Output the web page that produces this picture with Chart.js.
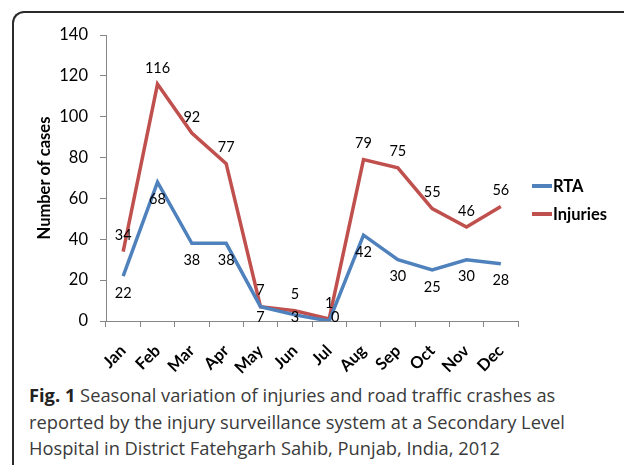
<!DOCTYPE html>
<html>
<head>
<meta charset="utf-8">
<script src="https://cdn.jsdelivr.net/npm/chart.js@4.4.1/dist/chart.umd.min.js"></script>
<style>
  html, body { margin: 0; padding: 0; background: #fff; }
  body { width: 624px; height: 465px; position: relative; overflow: hidden; font-family: Lato, sans-serif; }
  #frame { position: absolute; left: 12px; top: 11px; width: 700px; height: 520px;
           border-top: 2px solid #2b2b2b; border-left: 2px solid #2b2b2b; border-top-left-radius: 12px; }
  #wrap { position: absolute; left: 0; top: 0; width: 624px; height: 380px; }
  #legend { position: absolute; left: 532px; top: 172px; font: bold 16.5px Lato, sans-serif; color: #000; }
  .li { display: flex; align-items: center; height: 28px; }
  .sw { width: 20px; height: 4px; margin-right: 1px; }
  #caption { position: absolute; left: 29px; top: 382px; font: 18.3px "Open Sans", sans-serif; color: #3a3a3a; line-height: 26.5px; white-space: nowrap; }
  #caption b { color: #222; }
</style>
</head>
<body>
<div id="frame"></div>
<div id="wrap"><canvas id="c" width="624" height="380"></canvas></div>
<div id="legend"></div>
<div id="caption"><b>Fig. 1</b> Seasonal variation of injuries and road traffic crashes as<br>reported by the injury surveillance system at a Secondary Level<br>Hospital in District Fatehgarh Sahib, Punjab, India, 2012</div>
<script>
const months = ["Jan","Feb","Mar","Apr","May","Jun","Jul","Aug","Sep","Oct","Nov","Dec"];
const rta = [22, 68, 38, 38, 7, 3, 0, 42, 30, 25, 30, 28];
const injuries = [34, 116, 92, 77, 7, 5, 1, 79, 75, 55, 46, 56];
const seriesNames = ["RTA", "Injuries"];
const seriesColors = ["#4F81BD", "#C0504D"];
const yTicks = [0, 20, 40, 60, 80, 100, 120, 140];

const legend = document.getElementById('legend');
seriesNames.forEach((n, i) => {
  const d = document.createElement('div'); d.className = 'li';
  d.innerHTML = '<span class="sw" style="background:' + seriesColors[i] + '"></span><span>' + n + '</span>';
  legend.appendChild(d);
});

const labelPlugin = {
  id: 'valueLabels',
  afterDatasetsDraw(chart) {
    const ctx = chart.ctx;
    ctx.save();
    ctx.font = '14.5px Lato, sans-serif';
    ctx.fillStyle = '#000';
    ctx.textAlign = 'center';
    ctx.textBaseline = 'middle';
    chart.data.datasets.forEach((ds, di) => {
      const meta = chart.getDatasetMeta(di);
      meta.data.forEach((pt, i) => {
        let y;
        if (di === 0) { y = Math.min(pt.y + 17, chart.chartArea.bottom - 4); }
        else { y = pt.y - 16; }
        let x = pt.x;
        if (di === 0 && ds.data[i] === 0) x += 6;
        ctx.fillText(String(ds.data[i]), x, y);
      });
    });
    ctx.restore();
  }
};

new Chart(document.getElementById('c'), {
  type: 'line',
  data: {
    labels: months,
    datasets: [
      { label: seriesNames[0], data: rta, borderColor: seriesColors[0], backgroundColor: seriesColors[0], borderWidth: 3.5, pointRadius: 0, tension: 0 },
      { label: seriesNames[1], data: injuries, borderColor: seriesColors[1], backgroundColor: seriesColors[1], borderWidth: 3.5, pointRadius: 0, tension: 0 }
    ]
  },
  options: {
    responsive: false,
    animation: false,
    events: [],
    layout: { padding: { left: 31, right: 106, top: 35, bottom: 0 } },
    plugins: { legend: { display: false }, tooltip: { enabled: false } },
    scales: {
      x: {
        offset: true,
        grid: { drawOnChartArea: false, tickLength: 6, color: '#868686', offset: true },
        border: { color: '#868686', width: 1 },
        ticks: { minRotation: 45, maxRotation: 45, color: '#000', font: { family: 'Lato', size: 16.5, weight: 'bold' }, padding: 14 },
        afterFit(s) { s.height = 59; }
      },
      y: {
        min: 0, max: 140,
        afterBuildTicks(s) { s.ticks = yTicks.map(v => ({ value: v })); },
        grid: { drawOnChartArea: false, tickLength: 6, color: '#868686' },
        border: { color: '#868686', width: 1 },
        ticks: { color: '#000', font: { family: 'Lato', size: 16.5 }, padding: 12 },
        title: { display: true, text: 'Number of cases', color: '#000', font: { family: 'Lato', size: 16.5, weight: 'bold' } },
        afterFit(s) { s.width = 75; }
      }
    }
  },
  plugins: [labelPlugin]
});
</script>
</body>
</html>
